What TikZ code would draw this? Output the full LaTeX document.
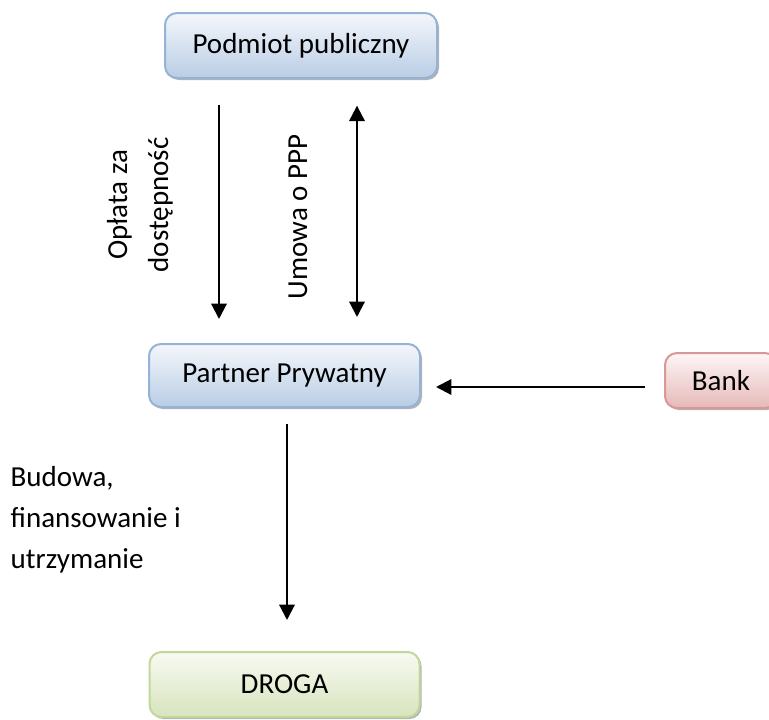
\documentclass[tikz,border=0pt]{standalone}
\usepackage{fontspec}
\setmainfont{Carlito}
\usetikzlibrary{arrows.meta,shadows}

\definecolor{blueline}{HTML}{95B3D7}
\definecolor{bluetop}{HTML}{F4F7FB}
\definecolor{bluebot}{HTML}{B9CDE5}
\definecolor{redline}{HTML}{D99795}
\definecolor{redtop}{HTML}{FDF6F6}
\definecolor{redbot}{HTML}{E6B9B8}
\definecolor{greenline}{HTML}{C3D69B}
\definecolor{greentop}{HTML}{F8FAF2}
\definecolor{greenbot}{HTML}{D7E4BD}

\tikzset{
  box/.style={draw, line width=1.5pt, rounded corners=9pt, inner sep=0pt,
    drop shadow={shadow xshift=1.5pt, shadow yshift=-1.5pt, fill=black!50, opacity=0.6}},
  bluebox/.style={box, draw=blueline, top color=bluetop, bottom color=bluebot},
  redbox/.style={box, draw=redline, top color=redtop, bottom color=redbot},
  greenbox/.style={box, draw=greenline, top color=greentop, bottom color=greenbot},
  arr/.style={line width=1.6pt, -{Triangle[length=11.5pt,width=11.5pt]}},
  arrboth/.style={line width=1.6pt, {Triangle[length=11.5pt,width=11.5pt]}-{Triangle[length=11.5pt,width=11.5pt]}}
}

\begin{document}
\begin{tikzpicture}[x=0.75pt, y=-0.75pt, every node/.style={font=\fontsize{21.75}{30.75}\selectfont}]
  \useasboundingbox (0,0) rectangle (769,719);
  \clip (0,0) rectangle (769,719);

  % Boxes
  \node[bluebox, minimum width=204pt, minimum height=48.75pt] (pod) at (301,45.5) {Podmiot publiczny};
  \node[bluebox, minimum width=203.25pt, minimum height=47.25pt] (part) at (284.5,375.5) {Partner Prywatny};
  \node[redbox, minimum width=84pt, minimum height=41.25pt] (bank) at (721,380.5) {Bank};
  \node[greenbox, minimum width=202.5pt, minimum height=48.75pt] (droga) at (284.5,684.5) {DROGA};

  % Payment: public body -> partner
  \coordinate (payTop) at ([shift={(-82,0)}]pod.south);
  \draw[arr, shorten <=19.5pt, shorten >=18pt] (payTop) -- (payTop |- part.north);
  \node[rotate=90, align=center] (payLbl) at (140,205) {Opłata za\\dostępność};

  % PPP contract
  \coordinate (dealTop) at ([shift={(56,0)}]pod.south);
  \draw[arrboth, shorten <=20pt, shorten >=19.5pt] (dealTop) -- (dealTop |- part.north);
  \node[rotate=90] (dealLbl) at (298,217) {Umowa o PPP};

  % Bank -> partner
  \coordinate (loan) at ([shift={(0,6.5)}]bank.west);
  \draw[arr, shorten <=14pt, shorten >=11.25pt] (loan) -- (loan -| part.east);

  % Partner -> road
  \coordinate (buildTop) at ([shift={(2.5,0)}]part.south);
  \draw[arr, shorten <=12pt, shorten >=23.25pt] (buildTop) -- (buildTop |- droga.north);
  \node[align=left, anchor=west] (buildLbl) at (6,520) {Budowa,\\finansowanie i\\utrzymanie};
\end{tikzpicture}
\end{document}
